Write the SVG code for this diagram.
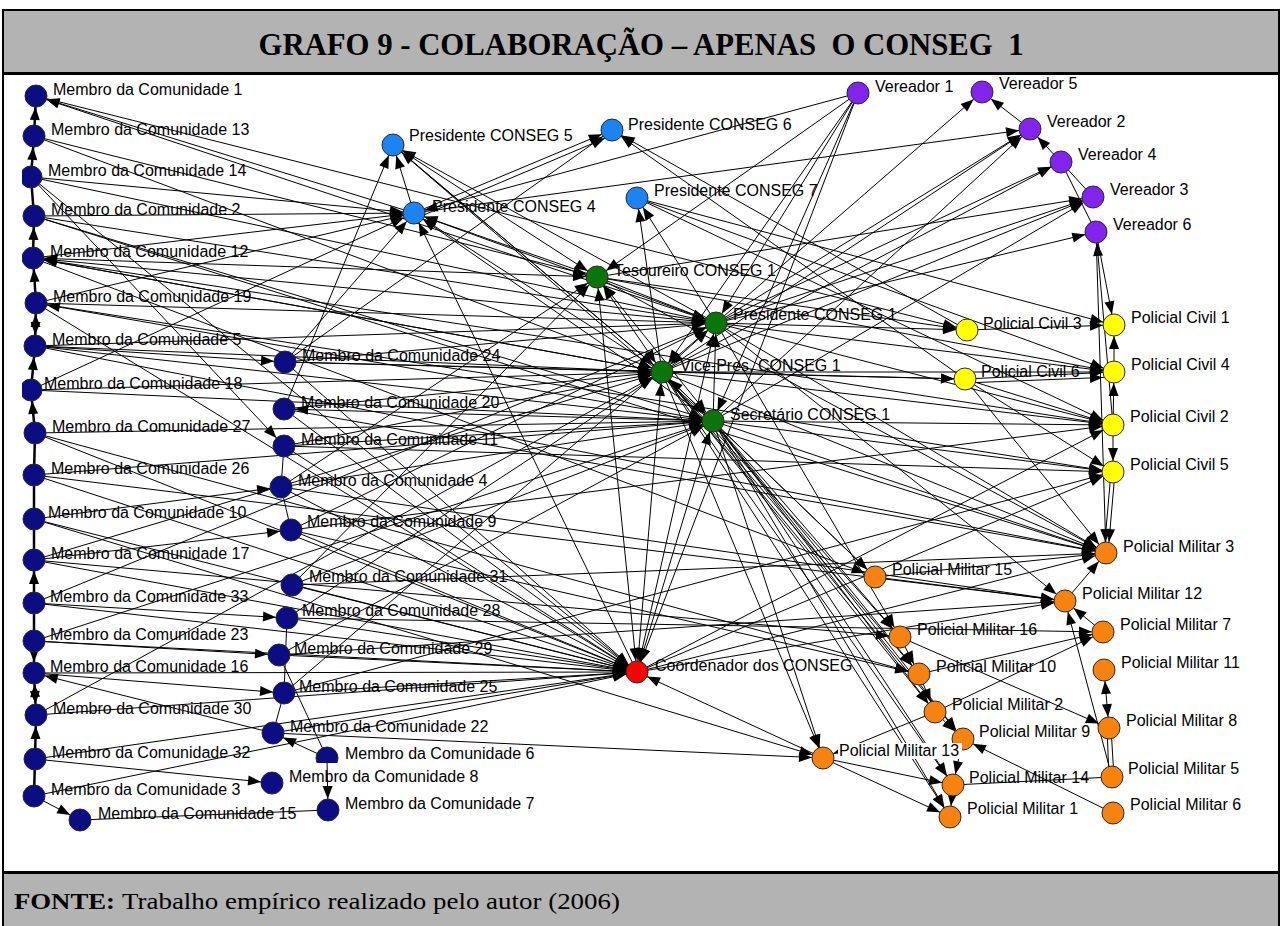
<svg xmlns="http://www.w3.org/2000/svg" width="1282" height="926" viewBox="0 0 1282 926">
<style>
.band{fill:#b3b3b3}
.frame{stroke:#000;fill:none}
.title{font-family:"Liberation Serif","Times New Roman",serif;font-weight:bold;font-size:32px;fill:#000}
.foot{font-family:"Liberation Serif","Times New Roman",serif;font-size:24px;fill:#000}
.lb{font-family:"Liberation Sans",Arial,sans-serif;font-size:16px;fill:#000}
#edges path{fill:none;stroke:#000;stroke-width:1}
#edges .d path{marker-end:url(#ah)}
#edges .b path{marker-start:url(#ah);marker-end:url(#ah)}
#edges .chain path{stroke-width:2.5}
circle{stroke:#2a2a2a;stroke-width:1}
.mc circle{fill:#0c0c84}
.pc circle{fill:#1a84f4}
.cs circle{fill:#0a760a}
.co circle{fill:#ff0000}
.ve circle{fill:#8224ee}
.ci circle{fill:#ffff00}
.pm circle{fill:#f8820e}
</style>
<defs>
<marker id="ah" markerUnits="userSpaceOnUse" markerWidth="13" markerHeight="10" refX="24" refY="5" orient="auto-start-reverse" overflow="visible">
<path d="M0 0L13 5L0 10z" fill="#000"/>
</marker>
<clipPath id="area"><rect x="22" y="75" width="1256" height="795"/></clipPath>
<clipPath id="cut6"><rect x="300" y="730" width="60" height="33"/></clipPath>
</defs>

<!-- frame, title band and footer band -->
<rect class="band" x="3" y="10" width="1277" height="63"/>
<rect class="band" x="3" y="872" width="1277" height="54"/>
<path class="frame" stroke-width="2" d="M3 926V10H1279V926"/>
<path class="frame" stroke-width="3" d="M3 73.5H1279M3 872.5H1279"/>
<text class="title" x="641" y="55" text-anchor="middle" textLength="765" lengthAdjust="spacingAndGlyphs" xml:space="preserve">GRAFO 9 - COLABORAÇÃO – APENAS  O CONSEG  1</text>
<text class="foot" x="14" y="909" font-weight="bold" textLength="101" lengthAdjust="spacingAndGlyphs">FONTE:</text>
<text class="foot" x="122" y="909" textLength="498" lengthAdjust="spacingAndGlyphs">Trabalho empírico realizado pelo autor (2006)</text>

<g clip-path="url(#area)">
<g id="edges">
<g class="chain">
<g class="d">
<path d="M34 136L36 96"/><path d="M31 177L34 136"/><path d="M33 258L34 216"/><path d="M36 303L33 258"/>
<path d="M31 390L35 346"/><path d="M35 433L31 390"/><path d="M34 603L34 560"/><path d="M34 641L34 673"/>
<path d="M35 759L36 715"/>
</g>
<g class="b"><path d="M35 346L36 303"/><path d="M34 673L36 715"/></g>
<path d="M34 216L31 177"/><path d="M34 475L35 433"/><path d="M34 519L34 475"/><path d="M34 560L34 519"/>
<path d="M34 641L34 603"/><path d="M34 796L35 759"/>
</g>
<g class="d">
<!-- left column out -->
<path d="M36 96L967 330"/><path d="M716 323L36 96"/><path d="M414 213L36 96"/>
<path d="M34 136L597 277"/><path d="M34 136L662 372"/>
<path d="M31 177L414 213"/><path d="M31 177L284 446"/><path d="M31 177L716 323"/><path d="M31 177L637 672"/>
<path d="M34 216L414 213"/><path d="M34 216L716 323"/><path d="M34 216L713 421"/><path d="M34 216L1106 553"/>
<path d="M33 258L414 213"/><path d="M33 258L662 372"/><path d="M33 258L875 577"/><path d="M33 258L1113 425"/>
<path d="M716 323L33 258"/><path d="M662 372L33 258"/>
<path d="M36 303L414 213"/><path d="M36 303L716 323"/><path d="M36 303L637 672"/><path d="M713 421L36 303"/><path d="M36 303L1113 472"/>
<path d="M35 346L285 362"/><path d="M35 346L662 372"/><path d="M35 346L716 323"/><path d="M35 346L713 421"/><path d="M35 346L1106 553"/>
<path d="M31 390L662 372"/><path d="M31 390L713 421"/><path d="M31 390L414 213"/>
<path d="M35 433L713 421"/><path d="M35 433L637 672"/><path d="M35 433L919 674"/>
<path d="M34 475L637 672"/><path d="M34 475L713 421"/><path d="M34 475L1065 601"/>
<path d="M34 519L281 487"/><path d="M34 519L637 672"/><path d="M34 519L823 758"/>
<path d="M34 560L291 530"/><path d="M34 560L637 672"/><path d="M34 560L662 372"/><path d="M34 560L900 637"/>
<path d="M34 603L287 618"/><path d="M34 603L637 672"/><path d="M34 603L716 323"/>
<path d="M34 641L279 655"/><path d="M34 641L637 672"/><path d="M34 641L713 421"/>
<path d="M34 673L284 693"/><path d="M34 673L637 672"/>
<path d="M36 715L637 672"/><path d="M36 715L662 372"/>
<path d="M35 759L637 672"/><path d="M35 759L272 783"/>
<path d="M34 796L637 672"/><path d="M34 796L80 820"/>
<path d="M273 733L34 673"/>
<!-- second column out -->
<path d="M285 362L414 213"/><path d="M285 362L612 130"/><path d="M285 362L662 372"/><path d="M285 362L716 323"/><path d="M285 362L637 672"/><path d="M285 362L965 379"/>
<path d="M284 409L662 372"/><path d="M284 409L637 672"/><path d="M284 409L393 145"/><path d="M284 409L1106 553"/>
<path d="M284 446L713 421"/><path d="M284 446L662 372"/><path d="M284 446L637 672"/><path d="M284 446L1113 472"/>
<path d="M281 487L713 421"/><path d="M281 487L637 672"/><path d="M281 487L597 277"/><path d="M281 487L1065 601"/>
<path d="M291 530L637 672"/><path d="M291 530L716 323"/><path d="M291 530L1113 425"/><path d="M291 530L919 674"/>
<path d="M292 585L637 672"/><path d="M292 585L713 421"/><path d="M292 585L597 277"/><path d="M292 585L1106 553"/>
<path d="M287 618L637 672"/><path d="M287 618L662 372"/><path d="M287 618L1103 632"/>
<path d="M279 655L637 672"/><path d="M279 655L713 421"/><path d="M279 655L1065 601"/>
<path d="M284 693L637 672"/><path d="M284 693L716 323"/><path d="M284 693L1113 472"/>
<path d="M273 733L823 758"/><path d="M273 733L637 672"/>
<path d="M327 758L273 733"/><path d="M327 758L328 810"/>
<!-- council hubs -->
<path d="M597 277L414 213"/><path d="M597 277L716 323"/><path d="M597 277L967 330"/><path d="M597 277L1114 372"/>
<path d="M597 277L1093 197"/><path d="M597 277L1106 553"/>
<path d="M716 323L393 145"/><path d="M716 323L637 198"/><path d="M662 372L637 198"/>
<path d="M716 323L982 92"/><path d="M716 323L1030 129"/><path d="M716 323L1061 162"/><path d="M716 323L1093 197"/><path d="M716 323L1096 232"/>
<path d="M716 323L967 330"/><path d="M716 323L1114 372"/><path d="M716 323L1113 425"/><path d="M716 323L1106 553"/><path d="M716 323L1065 601"/><path d="M716 323L900 637"/>
<path d="M713 421L716 323"/>
<path d="M637 198L1114 325"/><path d="M637 198L1114 372"/><path d="M637 198L1113 425"/>
<path d="M662 372L414 213"/><path d="M662 372L393 145"/><path d="M662 372L1030 129"/><path d="M662 372L1061 162"/><path d="M662 372L1093 197"/>
<path d="M662 372L965 379"/><path d="M662 372L1114 372"/><path d="M662 372L1113 425"/><path d="M662 372L1106 553"/>
<path d="M662 372L875 577"/><path d="M662 372L900 637"/><path d="M662 372L919 674"/><path d="M662 372L935 712"/><path d="M662 372L963 739"/>
<path d="M662 372L823 758"/><path d="M662 372L953 785"/><path d="M662 372L950 817"/>
<path d="M713 421L414 213"/><path d="M713 421L1093 197"/><path d="M713 421L1030 129"/><path d="M713 421L1113 425"/><path d="M713 421L1113 472"/>
<path d="M713 421L1106 553"/><path d="M713 421L875 577"/><path d="M713 421L900 637"/><path d="M713 421L919 674"/><path d="M713 421L935 712"/>
<path d="M713 421L963 739"/><path d="M713 421L953 785"/><path d="M713 421L950 817"/><path d="M713 421L823 758"/>
<path d="M637 672L414 213"/><path d="M637 672L1106 553"/><path d="M637 672L1065 601"/><path d="M637 672L1113 472"/><path d="M637 672L1113 425"/>
<path d="M823 758L637 672"/>
<path d="M393 145L662 372"/><path d="M393 145L713 421"/><path d="M393 145L597 277"/>
<path d="M414 213L393 145"/><path d="M414 213L612 130"/><path d="M419 217L615 134"/><path d="M414 213L1030 129"/>
<path d="M858 93L414 213"/><path d="M967 330L612 130"/><path d="M965 379L612 130"/>
<path d="M858 93L716 323"/><path d="M858 93L662 372"/><path d="M858 93L713 421"/><path d="M858 93L597 277"/><path d="M858 93L637 672"/>
<!-- aldermen, civil and military police -->
<path d="M1030 129L982 92"/><path d="M1061 162L1030 129"/>
<path d="M1096 232L1114 325"/><path d="M1113 425L1096 232"/><path d="M1096 232L1106 553"/>
<path d="M967 330L1114 325"/><path d="M1114 372L1114 325"/><path d="M1113 425L1114 372"/><path d="M1113 425L1113 472"/>
<path d="M1115 472L1108 553"/>
<path d="M965 379L1114 372"/><path d="M965 383L1114 377"/><path d="M965 379L1113 425"/><path d="M965 379L1113 472"/><path d="M965 379L1106 553"/>
<path d="M1065 601L1106 553"/><path d="M875 577L1106 553"/><path d="M875 577L1065 601"/>
<path d="M900 637L919 674"/><path d="M919 674L935 712"/><path d="M935 712L963 739"/>
<path d="M823 758L953 785"/><path d="M823 758L950 817"/><path d="M953 785L950 817"/>
<path d="M1113 813L963 739"/><path d="M1112 777L1065 601"/><path d="M1103 632L1065 601"/>
<path d="M919 674L1103 632"/><path d="M935 712L1103 632"/><path d="M900 637L1109 728"/>
<path d="M935 712L823 758"/><path d="M963 739L953 785"/>
</g>
<g class="b">
<path d="M33 258L597 277"/><path d="M284 409L713 421"/>
<path d="M597 277L662 372"/><path d="M597 277L713 421"/><path d="M597 277L637 672"/>
<path d="M716 323L637 672"/><path d="M716 323L662 372"/><path d="M414 213L716 323"/>
<path d="M662 372L637 672"/><path d="M713 421L662 372"/><path d="M713 421L637 672"/>
<path d="M1104 670L1109 728"/>
</g>
<!-- undirected ties -->
<path d="M284 446L281 487"/><path d="M281 487L291 530"/><path d="M287 618L284 693"/><path d="M279 655L327 758"/>
<path d="M284 693L273 733"/><path d="M80 820L328 810"/>
<path d="M1061 162L1093 197"/><path d="M1061 162L1096 232"/>
<path d="M1111 472L1104 553"/>
<path d="M953 785L1112 777"/><path d="M1107 728L1109 777"/><path d="M1111 728L1114 777"/>
</g>

<g id="n-m1" class="mc"><circle cx="36" cy="96" r="11"/><text class="lb" x="53" y="95">Membro da Comunidade 1</text></g>
<g id="n-m13" class="mc"><circle cx="34" cy="136" r="11"/><text class="lb" x="51" y="135">Membro da Comunidade 13</text></g>
<g id="n-m14" class="mc"><circle cx="31" cy="177" r="11"/><text class="lb" x="48" y="176">Membro da Comunidade 14</text></g>
<g id="n-m2" class="mc"><circle cx="34" cy="216" r="11"/><text class="lb" x="51" y="215">Membro da Comunidade 2</text></g>
<g id="n-m12" class="mc"><circle cx="33" cy="258" r="11"/><text class="lb" x="50" y="257">Membro da Comunidade 12</text></g>
<g id="n-m19" class="mc"><circle cx="36" cy="303" r="11"/><text class="lb" x="53" y="302">Membro da Comunidade 19</text></g>
<g id="n-m5" class="mc"><circle cx="35" cy="346" r="11"/><text class="lb" x="52" y="345">Membro da Comunidade 5</text></g>
<g id="n-m18" class="mc"><circle cx="31" cy="390" r="11"/><text class="lb" x="44" y="389">Membro da Comunidade 18</text></g>
<g id="n-m27" class="mc"><circle cx="35" cy="433" r="11"/><text class="lb" x="52" y="432">Membro da Comunidade 27</text></g>
<g id="n-m26" class="mc"><circle cx="34" cy="475" r="11"/><text class="lb" x="51" y="474">Membro da Comunidade 26</text></g>
<g id="n-m10" class="mc"><circle cx="34" cy="519" r="11"/><text class="lb" x="48" y="518">Membro da Comunidade 10</text></g>
<g id="n-m17" class="mc"><circle cx="34" cy="560" r="11"/><text class="lb" x="51" y="559">Membro da Comunidade 17</text></g>
<g id="n-m33" class="mc"><circle cx="34" cy="603" r="11"/><text class="lb" x="50" y="602">Membro da Comunidade 33</text></g>
<g id="n-m23" class="mc"><circle cx="34" cy="641" r="11"/><text class="lb" x="50" y="640">Membro da Comunidade 23</text></g>
<g id="n-m16" class="mc"><circle cx="34" cy="673" r="11"/><text class="lb" x="50" y="672">Membro da Comunidade 16</text></g>
<g id="n-m30" class="mc"><circle cx="36" cy="715" r="11"/><text class="lb" x="53" y="714">Membro da Comunidade 30</text></g>
<g id="n-m32" class="mc"><circle cx="35" cy="759" r="11"/><text class="lb" x="52" y="758">Membro da Comunidade 32</text></g>
<g id="n-m3" class="mc"><circle cx="34" cy="796" r="11"/><text class="lb" x="51" y="795">Membro da Comunidade 3</text></g>
<g id="n-m15" class="mc"><circle cx="80" cy="820" r="11"/><text class="lb" x="98" y="819">Membro da Comunidade 15</text></g>
<g id="n-m24" class="mc"><circle cx="285" cy="362" r="11"/><text class="lb" x="302" y="361">Membro da Comunidade 24</text></g>
<g id="n-m20" class="mc"><circle cx="284" cy="409" r="11"/><text class="lb" x="301" y="408">Membro da Comunidade 20</text></g>
<g id="n-m11" class="mc"><circle cx="284" cy="446" r="11"/><text class="lb" x="301" y="445">Membro da Comunidade 11</text></g>
<g id="n-m4" class="mc"><circle cx="281" cy="487" r="11"/><text class="lb" x="298" y="486">Membro da Comunidade 4</text></g>
<g id="n-m9" class="mc"><circle cx="291" cy="530" r="11"/><text class="lb" x="307" y="527">Membro da Comunidade 9</text></g>
<g id="n-m31" class="mc"><circle cx="292" cy="585" r="11"/><text class="lb" x="309" y="582">Membro da Comunidade 31</text></g>
<g id="n-m28" class="mc"><circle cx="287" cy="618" r="11"/><text class="lb" x="302" y="616">Membro da Comunidade 28</text></g>
<g id="n-m29" class="mc"><circle cx="279" cy="655" r="11"/><text class="lb" x="294" y="654">Membro da Comunidade 29</text></g>
<g id="n-m25" class="mc"><circle cx="284" cy="693" r="11"/><text class="lb" x="299" y="692">Membro da Comunidade 25</text></g>
<g id="n-m22" class="mc"><circle cx="273" cy="733" r="11"/><text class="lb" x="290" y="732">Membro da Comunidade 22</text></g>
<g id="n-m6" class="mc"><circle cx="327" cy="758" r="11" clip-path="url(#cut6)"/><text class="lb" x="345" y="759">Membro da Comunidade 6</text></g>
<g id="n-m8" class="mc"><circle cx="272" cy="783" r="11"/><text class="lb" x="289" y="782">Membro da Comunidade 8</text></g>
<g id="n-m7" class="mc"><circle cx="328" cy="810" r="11"/><text class="lb" x="345" y="809">Membro da Comunidade 7</text></g>

<g id="n-p5" class="pc"><circle cx="393" cy="145" r="11"/><text class="lb" x="409" y="141">Presidente CONSEG 5</text></g>
<g id="n-p6" class="pc"><circle cx="612" cy="130" r="11"/><text class="lb" x="628" y="130">Presidente CONSEG 6</text></g>
<g id="n-p4" class="pc"><circle cx="414" cy="213" r="11"/><text class="lb" x="432" y="212">Presidente CONSEG 4</text></g>
<g id="n-p7" class="pc"><circle cx="637" cy="198" r="11"/><text class="lb" x="654" y="196">Presidente CONSEG 7</text></g>

<g id="n-t1" class="cs"><circle cx="597" cy="277" r="11"/><text class="lb" x="614" y="276">Tesoureiro CONSEG 1</text></g>
<g id="n-pr1" class="cs"><circle cx="716" cy="323" r="11"/><text class="lb" x="733" y="320">Presidente CONSEG 1</text></g>
<g id="n-vp1" class="cs"><circle cx="662" cy="372" r="11"/><text class="lb" x="680" y="371">Vice-Pres. CONSEG 1</text></g>
<g id="n-s1" class="cs"><circle cx="713" cy="421" r="11"/><text class="lb" x="730" y="420">Secretário CONSEG 1</text></g>
<g id="n-co" class="co"><circle cx="637" cy="672" r="11"/><text class="lb" x="655" y="671">Coordenador dos CONSEG</text></g>

<g id="n-v1" class="ve"><circle cx="858" cy="93" r="11"/><text class="lb" x="875" y="92">Vereador 1</text></g>
<g id="n-v5" class="ve"><circle cx="982" cy="92" r="11"/><text class="lb" x="999" y="89">Vereador 5</text></g>
<g id="n-v2" class="ve"><circle cx="1030" cy="129" r="11"/><text class="lb" x="1047" y="127">Vereador 2</text></g>
<g id="n-v4" class="ve"><circle cx="1061" cy="162" r="11"/><text class="lb" x="1078" y="160">Vereador 4</text></g>
<g id="n-v3" class="ve"><circle cx="1093" cy="197" r="11"/><text class="lb" x="1110" y="195">Vereador 3</text></g>
<g id="n-v6" class="ve"><circle cx="1096" cy="232" r="11"/><text class="lb" x="1113" y="230">Vereador 6</text></g>

<g id="n-c3" class="ci"><circle cx="967" cy="330" r="11"/><text class="lb" x="983" y="329">Policial Civil 3</text></g>
<g id="n-c1" class="ci"><circle cx="1114" cy="325" r="11"/><text class="lb" x="1131" y="323">Policial Civil 1</text></g>
<g id="n-c6" class="ci"><circle cx="965" cy="379" r="11"/><text class="lb" x="981" y="377">Policial Civil 6</text></g>
<g id="n-c4" class="ci"><circle cx="1114" cy="372" r="11"/><text class="lb" x="1131" y="370">Policial Civil 4</text></g>
<g id="n-c2" class="ci"><circle cx="1113" cy="425" r="11"/><text class="lb" x="1130" y="422">Policial Civil 2</text></g>
<g id="n-c5" class="ci"><circle cx="1113" cy="472" r="11"/><text class="lb" x="1130" y="470">Policial Civil 5</text></g>

<g id="n-pm3" class="pm"><circle cx="1106" cy="553" r="11"/><text class="lb" x="1123" y="552">Policial Militar 3</text></g>
<g id="n-pm15" class="pm"><circle cx="875" cy="577" r="11"/><text class="lb" x="892" y="575">Policial Militar 15</text></g>
<g id="n-pm12" class="pm"><circle cx="1065" cy="601" r="11"/><text class="lb" x="1082" y="599">Policial Militar 12</text></g>
<g id="n-pm16" class="pm"><circle cx="900" cy="637" r="11"/><text class="lb" x="917" y="635">Policial Militar 16</text></g>
<g id="n-pm7" class="pm"><circle cx="1103" cy="632" r="11"/><text class="lb" x="1120" y="630">Policial Militar 7</text></g>
<g id="n-pm10" class="pm"><circle cx="919" cy="674" r="11"/><text class="lb" x="936" y="672">Policial Militar 10</text></g>
<g id="n-pm11" class="pm"><circle cx="1104" cy="670" r="11"/><text class="lb" x="1121" y="668">Policial Militar 11</text></g>
<g id="n-pm2" class="pm"><circle cx="935" cy="712" r="11"/><text class="lb" x="952" y="710">Policial Militar 2</text></g>
<g id="n-pm8" class="pm"><circle cx="1109" cy="728" r="11"/><text class="lb" x="1126" y="726">Policial Militar 8</text></g>
<g id="n-pm9" class="pm"><circle cx="963" cy="739" r="11"/><text class="lb" x="979" y="737">Policial Militar 9</text></g>
<g id="n-pm13" class="pm"><circle cx="823" cy="758" r="11"/><rect x="838" y="743" width="124" height="16" fill="#fff"/><text class="lb" x="839" y="756">Policial Militar 13</text></g>
<g id="n-pm14" class="pm"><circle cx="953" cy="785" r="11"/><text class="lb" x="969" y="783">Policial Militar 14</text></g>
<g id="n-pm5" class="pm"><circle cx="1112" cy="777" r="11"/><text class="lb" x="1128" y="774">Policial Militar 5</text></g>
<g id="n-pm1" class="pm"><circle cx="950" cy="817" r="11"/><text class="lb" x="967" y="814">Policial Militar 1</text></g>
<g id="n-pm6" class="pm"><circle cx="1113" cy="813" r="11"/><text class="lb" x="1130" y="810">Policial Militar 6</text></g>
</g>
</svg>
